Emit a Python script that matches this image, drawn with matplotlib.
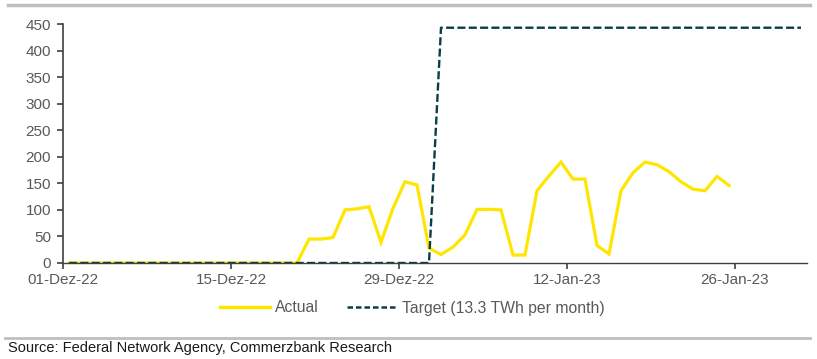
import matplotlib.pyplot as plt
from matplotlib.lines import Line2D

# Daily values, day 0 = 01-Dec-22 (GWh)
actual = [0, 0, 0, 0, 0, 0, 0, 0, 0, 0,
          0, 0, 0, 0, 0, 0, 0, 0, 0, 0,
          45, 45, 48, 100, 102, 106, 39, 103, 153, 147,
          28, 16, 30, 53, 101, 101, 100, 15, 15, 136,
          164, 190, 158, 158, 33, 17, 136, 170, 190, 185,
          172, 153, 139, 136, 163, 146]
target = [0] * 31 + [443] * 31

tick_days = [0, 14, 28, 42, 56]
tick_labels = ["01-Dez-22", "15-Dez-22", "29-Dez-22", "12-Jan-23", "26-Jan-23"]

YELLOW = "#FFE600"
TEAL = "#0A3D47"
GREY = "#595959"

plt.rcParams["font.family"] = ["Liberation Sans", "DejaVu Sans"]

fig = plt.figure(figsize=(8.17, 3.59), dpi=100)
ax = fig.add_axes([63 / 817, 1 - 263 / 359, (807 - 63) / 817, (263 - 24) / 359])

# points sit in the middle of each day
xa = [d + 0.5 for d in range(len(actual))]
xt = [d + 0.5 for d in range(len(target))]
ax.plot(xa, actual, color=YELLOW, lw=2.3, solid_joinstyle="miter", zorder=2)
ax.plot(xt, target, color=TEAL, lw=1.7, dashes=(3.4, 1.4), zorder=3)

ax.set_xlim(0, 62)
ax.set_ylim(0, 450)
ax.set_yticks(range(0, 451, 50))
ax.set_xticks(tick_days)
ax.set_xticklabels(tick_labels)

for s in ["top", "right"]:
    ax.spines[s].set_visible(False)
ax.spines["left"].set_color("#404040")
ax.spines["bottom"].set_color("#404040")
ax.spines["left"].set_linewidth(1.2)
ax.spines["bottom"].set_linewidth(1.0)
ax.tick_params(axis="both", colors="#404040", labelcolor=GREY, labelsize=11,
               length=4, width=1.2)
ax.tick_params(axis="y", pad=4.5)
ax.tick_params(axis="x", pad=3)

handles = [Line2D([], [], color=YELLOW, lw=2.5),
           Line2D([], [], color=TEAL, lw=1.8, dashes=(2.2, 1.2))]
leg = fig.legend(handles, ["Actual", "Target (13.3 TWh per month)"],
                 loc="center", bbox_to_anchor=(412 / 817, 1 - 308 / 359), ncol=2,
                 frameon=False, handlelength=3.2, handletextpad=0.3,
                 columnspacing=1.8, prop={"size": 11.3})
for t in leg.get_texts():
    t.set_color(GREY)

# frame lines and source
fig.add_artist(Line2D([8 / 817, 810 / 817], [1 - 5 / 359] * 2, color="#BFBFBF", lw=2.5))
fig.add_artist(Line2D([5 / 817, 810 / 817], [1 - 338 / 359] * 2, color="#BFBFBF", lw=2.0))
fig.text(8 / 817, 1 - 348 / 359, "Source: Federal Network Agency, Commerzbank Research",
         size=10.5, color="#1A1A1A", va="center", ha="left")

fig.savefig("out.png", dpi=100)
